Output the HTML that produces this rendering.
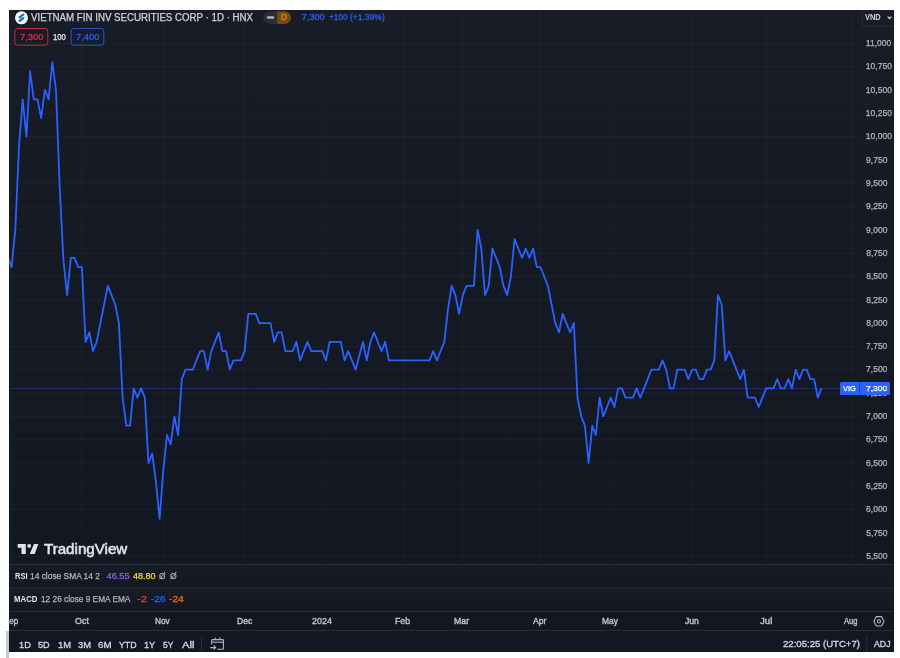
<!DOCTYPE html>
<html><head><meta charset="utf-8"><style>
*{margin:0;padding:0;box-sizing:border-box}
html,body{width:900px;height:658px;background:#fff;overflow:hidden}
body{position:relative;font-family:"Liberation Sans",sans-serif}
#panel{position:absolute;left:9px;top:10px;width:885px;height:641.5px;background:#131722;overflow:hidden}
svg{position:absolute;left:0;top:0}
.t{position:absolute;white-space:nowrap;transform-origin:0 0}
.clip{position:absolute;left:9px;top:10px;width:885px;height:641.5px;overflow:hidden}
.clip>div{margin-left:-9px;margin-top:-10px}
.txt{position:absolute;left:0;top:0;width:900px;height:658px;will-change:transform}
</style></head><body>
<div style="position:absolute;left:6px;top:631px;width:3px;height:27px;background:#c8c8c8"></div>
<div id="panel"></div>
<div style="position:absolute;left:9px;top:10px;width:885px;height:554px;background:linear-gradient(#181c27,#131722)"></div>
<div style="position:absolute;left:9px;top:565px;width:885px;height:23px;background:linear-gradient(#181c27,#131722)"></div>
<div style="position:absolute;left:9px;top:588.5px;width:885px;height:23px;background:linear-gradient(#181c27,#131722)"></div>
<svg width="900" height="658" viewBox="0 0 900 658">
<defs><clipPath id="cp"><rect x="9" y="10" width="851" height="554"/></clipPath></defs>
<g stroke="rgba(205,215,255,0.045)" stroke-width="1"><line x1="9" x2="860" y1="556.19" y2="556.19"/><line x1="9" x2="860" y1="532.88" y2="532.88"/><line x1="9" x2="860" y1="509.58" y2="509.58"/><line x1="9" x2="860" y1="486.27" y2="486.27"/><line x1="9" x2="860" y1="462.96" y2="462.96"/><line x1="9" x2="860" y1="439.65" y2="439.65"/><line x1="9" x2="860" y1="416.35" y2="416.35"/><line x1="9" x2="860" y1="393.04" y2="393.04"/><line x1="9" x2="860" y1="369.73" y2="369.73"/><line x1="9" x2="860" y1="346.42" y2="346.42"/><line x1="9" x2="860" y1="323.12" y2="323.12"/><line x1="9" x2="860" y1="299.81" y2="299.81"/><line x1="9" x2="860" y1="276.50" y2="276.50"/><line x1="9" x2="860" y1="253.20" y2="253.20"/><line x1="9" x2="860" y1="229.89" y2="229.89"/><line x1="9" x2="860" y1="206.58" y2="206.58"/><line x1="9" x2="860" y1="183.27" y2="183.27"/><line x1="9" x2="860" y1="159.97" y2="159.97"/><line x1="9" x2="860" y1="136.66" y2="136.66"/><line x1="9" x2="860" y1="113.35" y2="113.35"/><line x1="9" x2="860" y1="90.04" y2="90.04"/><line x1="9" x2="860" y1="66.74" y2="66.74"/><line x1="9" x2="860" y1="43.43" y2="43.43"/><line x1="11.63" x2="11.63" y1="10" y2="564"/><line x1="81.90" x2="81.90" y1="10" y2="564"/><line x1="163.26" x2="163.26" y1="10" y2="564"/><line x1="244.62" x2="244.62" y1="10" y2="564"/><line x1="322.28" x2="322.28" y1="10" y2="564"/><line x1="403.64" x2="403.64" y1="10" y2="564"/><line x1="462.81" x2="462.81" y1="10" y2="564"/><line x1="540.48" x2="540.48" y1="10" y2="564"/><line x1="610.74" x2="610.74" y1="10" y2="564"/><line x1="692.10" x2="692.10" y1="10" y2="564"/><line x1="766.07" x2="766.07" y1="10" y2="564"/><line x1="851.13" x2="851.13" y1="10" y2="564"/></g>
<g stroke="#2a2e39" stroke-width="1">
<line x1="9" x2="894" y1="564.5" y2="564.5"/><line x1="9" x2="894" y1="588" y2="588"/>
<line x1="9" x2="894" y1="611.5" y2="611.5"/><line x1="9" x2="894" y1="630.5" y2="630.5"/>
<line x1="201.5" x2="201.5" y1="636.5" y2="651.5"/><line x1="866.8" x2="866.8" y1="636.5" y2="651.5"/>
</g>
<line x1="9" x2="840" y1="388.38" y2="388.38" stroke="#2962ff" stroke-opacity="0.3"/>
<polyline clip-path="url(#cp)" points="7.9,257.9 11.6,267.2 15.3,229.9 19.0,146.0 22.7,99.4 26.4,136.7 30.1,71.4 33.8,99.4 37.5,99.4 41.2,118.0 44.9,90.0 48.6,99.4 52.3,62.1 56.0,90.0 59.7,187.0 63.4,259.7 67.1,295.1 70.8,257.9 74.5,257.9 78.2,267.2 81.9,267.2 85.6,341.8 89.3,332.4 93.0,351.1 96.7,341.8 100.4,323.1 104.1,304.5 107.8,285.8 111.5,295.1 115.2,304.5 118.9,323.1 122.6,397.7 126.3,425.7 130.0,425.7 133.7,388.4 137.4,397.7 141.1,388.4 144.8,397.7 148.5,463.0 152.2,453.6 155.9,481.6 159.6,518.9 163.3,470.4 167.0,435.0 170.7,444.3 174.4,416.3 178.1,435.0 181.8,379.1 185.4,369.7 189.1,369.7 192.8,369.7 196.5,360.4 200.2,351.1 203.9,351.1 207.6,369.7 211.3,351.1 215.0,341.8 218.7,332.4 222.4,351.1 226.1,351.1 229.8,369.7 233.5,360.4 237.2,360.4 240.9,360.4 244.6,351.1 248.3,313.8 252.0,313.8 255.7,313.8 259.4,323.1 263.1,323.1 266.8,323.1 270.5,323.1 274.2,341.8 277.9,332.4 281.6,332.4 285.3,351.1 289.0,351.1 292.7,351.1 296.4,341.8 300.1,360.4 303.8,351.1 307.5,341.8 311.2,351.1 314.9,351.1 318.6,351.1 322.3,351.1 326.0,360.4 329.7,341.8 333.4,341.8 337.1,341.8 340.8,341.8 344.5,360.4 348.2,351.1 351.9,360.4 355.6,369.7 359.3,355.7 363.0,341.8 366.7,360.4 370.4,341.8 374.1,332.4 377.8,341.8 381.5,351.1 385.2,341.8 388.9,360.4 392.5,360.4 396.2,360.4 399.9,360.4 403.6,360.4 407.3,360.4 411.0,360.4 414.7,360.4 418.4,360.4 422.1,360.4 425.8,360.4 429.5,360.4 433.2,351.1 436.9,360.4 440.6,351.1 444.3,341.8 448.0,309.1 451.7,285.8 455.4,295.1 459.1,313.8 462.8,295.1 466.5,285.8 470.2,285.8 473.9,285.8 477.6,229.9 481.3,248.5 485.0,295.1 488.7,285.8 492.4,248.5 496.1,257.9 499.8,267.2 503.5,285.8 507.2,295.1 510.9,276.5 514.6,239.2 518.3,248.5 522.0,257.9 525.7,248.5 529.4,257.9 533.1,248.5 536.8,267.2 540.5,267.2 544.2,276.5 547.9,285.8 551.6,304.5 555.3,323.1 559.0,332.4 562.7,313.8 566.4,323.1 570.1,332.4 573.8,323.1 577.5,397.7 581.2,416.3 584.9,425.7 588.6,463.0 592.3,425.7 595.9,435.0 599.6,397.7 603.3,416.3 607.0,407.0 610.7,397.7 614.4,407.0 618.1,388.4 621.8,388.4 625.5,397.7 629.2,397.7 632.9,397.7 636.6,388.4 640.3,397.7 644.0,388.4 647.7,379.1 651.4,369.7 655.1,369.7 658.8,369.7 662.5,360.4 666.2,369.7 669.9,388.4 673.6,388.4 677.3,369.7 681.0,369.7 684.7,369.7 688.4,379.1 692.1,369.7 695.8,369.7 699.5,379.1 703.2,379.1 706.9,369.7 710.6,369.7 714.3,360.4 718.0,295.1 721.7,304.5 725.4,360.4 729.1,351.1 732.8,360.4 736.5,369.7 740.2,379.1 743.9,369.7 747.6,397.7 751.3,397.7 755.0,397.7 758.7,407.0 762.4,397.7 766.1,388.4 769.8,388.4 773.5,388.4 777.2,379.1 780.9,388.4 784.6,388.4 788.3,379.1 792.0,388.4 795.7,369.7 799.4,379.1 803.0,369.7 806.7,369.7 810.4,379.1 814.1,379.1 817.8,397.7 821.5,388.4" fill="none" stroke="#2962ff" stroke-width="1.8" stroke-linejoin="round"/>
<circle cx="21.5" cy="17.8" r="6.5" fill="#f4f6fb"/>
<path d="M19.6 17.3 L23.3 14.5 M19.6 20.9 L23.3 18.1" stroke="#1565c0" stroke-width="2.1" stroke-linecap="round"/>
<path d="M269.5 11.3 H277.2 V23.9 H269.5 A6.3 6.3 0 0 1 269.5 11.3 Z" fill="#2a2e39"/>
<path d="M277.2 11.3 H284.8 A6.3 6.3 0 0 1 284.8 23.9 H277.2 Z" fill="#6a4a1e"/>
<line x1="268" x2="273.2" y1="17.5" y2="17.5" stroke="#b2b5be" stroke-width="2.3" stroke-linecap="round"/>
<rect x="14.8" y="28.5" width="33" height="16.7" rx="2.5" fill="none" stroke="#c4303d" stroke-width="1"/>
<rect x="71.2" y="28.5" width="32.6" height="16.7" rx="2.5" fill="none" stroke="#2453c9" stroke-width="1"/>
<path d="M894 26.3 H864.8 Q862.3 26.3 862.3 23.8 V10" fill="none" stroke="#2a2e39" stroke-width="1"/>
<path d="M887.6 16.6 L889.5 18.5 L891.4 16.6" fill="none" stroke="#d1d4dc" stroke-width="1.25"/>
<g fill="#e0e3eb">
<path d="M17.7 544 H25.8 V554 H21.5 V547.8 H17.7 Z"/>
<circle cx="29.2" cy="545.9" r="1.95"/>
<path d="M34 544 H38.3 L34.7 554 H29.7 Z"/>
</g>
<g fill="none" stroke="#b2b5be" stroke-width="1.1">
<path d="M876.3 616.6 H881.5 L884 621.5 L881.5 626 H876.3 L873.8 621.5 Z"/>
<circle cx="878.9" cy="621.4" r="1.6"/>
</g>
<g fill="none" stroke="#b2b5be" stroke-width="1.1">
<path d="M211.7 644.5 V640.5 Q211.7 639.6 212.6 639.6 H222.6 Q223.4 639.6 223.4 640.5 V648.4 Q223.4 649.3 222.6 649.3 H217.4"/>
<line x1="211.7" x2="223.4" y1="642.2" y2="642.2"/>
<line x1="215.2" x2="215.2" y1="637.6" y2="640"/>
<line x1="219.8" x2="219.8" y1="637.6" y2="640"/>
<path d="M210.2 647.6 H215.6 M213.7 645.7 L215.6 647.6 L213.7 649.5"/>
</g>
</svg>
<div class="txt">
<div class="clip"><div style="position:relative;width:900px;height:658px"><div class="t" style="left:74.60px;top:616.97px;font-size:8.9px;line-height:8.9px;color:#c3c6ce;font-weight:400;transform:scaleX(1.006);-webkit-text-stroke:0.35px currentColor;">Oct</div><div class="t" style="left:155.34px;top:616.97px;font-size:8.9px;line-height:8.9px;color:#c3c6ce;font-weight:400;transform:scaleX(0.926);-webkit-text-stroke:0.35px currentColor;">Nov</div><div class="t" style="left:236.61px;top:616.97px;font-size:8.9px;line-height:8.9px;color:#c3c6ce;font-weight:400;transform:scaleX(0.967);-webkit-text-stroke:0.35px currentColor;">Dec</div><div class="t" style="left:311.85px;top:616.97px;font-size:8.9px;line-height:8.9px;color:#c3c6ce;font-weight:400;transform:scaleX(1.015);-webkit-text-stroke:0.35px currentColor;">2024</div><div class="t" style="left:395.30px;top:616.97px;font-size:8.9px;line-height:8.9px;color:#c3c6ce;font-weight:400;transform:scaleX(0.982);-webkit-text-stroke:0.35px currentColor;">Feb</div><div class="t" style="left:454.30px;top:616.97px;font-size:8.9px;line-height:8.9px;color:#c3c6ce;font-weight:400;transform:scaleX(0.986);-webkit-text-stroke:0.35px currentColor;">Mar</div><div class="t" style="left:533.30px;top:616.97px;font-size:8.9px;line-height:8.9px;color:#c3c6ce;font-weight:400;transform:scaleX(0.976);-webkit-text-stroke:0.35px currentColor;">Apr</div><div class="t" style="left:601.62px;top:616.97px;font-size:8.9px;line-height:8.9px;color:#c3c6ce;font-weight:400;transform:scaleX(0.956);-webkit-text-stroke:0.35px currentColor;">May</div><div class="t" style="left:684.87px;top:616.97px;font-size:8.9px;line-height:8.9px;color:#c3c6ce;font-weight:400;transform:scaleX(0.973);-webkit-text-stroke:0.35px currentColor;">Jun</div><div class="t" style="left:759.85px;top:616.97px;font-size:8.9px;line-height:8.9px;color:#c3c6ce;font-weight:400;transform:scaleX(1.094);-webkit-text-stroke:0.35px currentColor;">Jul</div><div class="t" style="left:844.00px;top:616.97px;font-size:8.9px;line-height:8.9px;color:#c3c6ce;font-weight:400;transform:scaleX(0.850);-webkit-text-stroke:0.35px currentColor;">Aug</div><div class="t" style="left:4.14px;top:616.97px;font-size:8.9px;line-height:8.9px;color:#c3c6ce;font-weight:400;transform:scaleX(0.896);-webkit-text-stroke:0.35px currentColor;">Sep</div></div></div>
<div class="t" style="left:866.16px;top:551.89px;font-size:8.5px;line-height:8.5px;color:#b2b5be;font-weight:400;-webkit-text-stroke:0.25px currentColor;">5,500</div><div class="t" style="left:866.16px;top:528.59px;font-size:8.5px;line-height:8.5px;color:#b2b5be;font-weight:400;-webkit-text-stroke:0.25px currentColor;">5,750</div><div class="t" style="left:866.08px;top:505.28px;font-size:8.5px;line-height:8.5px;color:#b2b5be;font-weight:400;-webkit-text-stroke:0.25px currentColor;">6,000</div><div class="t" style="left:866.08px;top:481.97px;font-size:8.5px;line-height:8.5px;color:#b2b5be;font-weight:400;-webkit-text-stroke:0.25px currentColor;">6,250</div><div class="t" style="left:866.08px;top:458.67px;font-size:8.5px;line-height:8.5px;color:#b2b5be;font-weight:400;-webkit-text-stroke:0.25px currentColor;">6,500</div><div class="t" style="left:866.08px;top:435.36px;font-size:8.5px;line-height:8.5px;color:#b2b5be;font-weight:400;-webkit-text-stroke:0.25px currentColor;">6,750</div><div class="t" style="left:866.08px;top:412.05px;font-size:8.5px;line-height:8.5px;color:#b2b5be;font-weight:400;-webkit-text-stroke:0.25px currentColor;">7,000</div><div class="t" style="left:866.08px;top:388.74px;font-size:8.5px;line-height:8.5px;color:#b2b5be;font-weight:400;-webkit-text-stroke:0.25px currentColor;">7,250</div><div class="t" style="left:866.08px;top:365.44px;font-size:8.5px;line-height:8.5px;color:#b2b5be;font-weight:400;-webkit-text-stroke:0.25px currentColor;">7,500</div><div class="t" style="left:866.08px;top:342.13px;font-size:8.5px;line-height:8.5px;color:#b2b5be;font-weight:400;-webkit-text-stroke:0.25px currentColor;">7,750</div><div class="t" style="left:866.16px;top:318.82px;font-size:8.5px;line-height:8.5px;color:#b2b5be;font-weight:400;-webkit-text-stroke:0.25px currentColor;">8,000</div><div class="t" style="left:866.16px;top:295.51px;font-size:8.5px;line-height:8.5px;color:#b2b5be;font-weight:400;-webkit-text-stroke:0.25px currentColor;">8,250</div><div class="t" style="left:866.16px;top:272.21px;font-size:8.5px;line-height:8.5px;color:#b2b5be;font-weight:400;-webkit-text-stroke:0.25px currentColor;">8,500</div><div class="t" style="left:866.16px;top:248.90px;font-size:8.5px;line-height:8.5px;color:#b2b5be;font-weight:400;-webkit-text-stroke:0.25px currentColor;">8,750</div><div class="t" style="left:866.12px;top:225.59px;font-size:8.5px;line-height:8.5px;color:#b2b5be;font-weight:400;-webkit-text-stroke:0.25px currentColor;">9,000</div><div class="t" style="left:866.12px;top:202.29px;font-size:8.5px;line-height:8.5px;color:#b2b5be;font-weight:400;-webkit-text-stroke:0.25px currentColor;">9,250</div><div class="t" style="left:866.12px;top:178.98px;font-size:8.5px;line-height:8.5px;color:#b2b5be;font-weight:400;-webkit-text-stroke:0.25px currentColor;">9,500</div><div class="t" style="left:866.12px;top:155.67px;font-size:8.5px;line-height:8.5px;color:#b2b5be;font-weight:400;-webkit-text-stroke:0.25px currentColor;">9,750</div><div class="t" style="left:865.86px;top:132.36px;font-size:8.5px;line-height:8.5px;color:#b2b5be;font-weight:400;-webkit-text-stroke:0.25px currentColor;">10,000</div><div class="t" style="left:865.86px;top:109.06px;font-size:8.5px;line-height:8.5px;color:#b2b5be;font-weight:400;-webkit-text-stroke:0.25px currentColor;">10,250</div><div class="t" style="left:865.86px;top:85.75px;font-size:8.5px;line-height:8.5px;color:#b2b5be;font-weight:400;-webkit-text-stroke:0.25px currentColor;">10,500</div><div class="t" style="left:865.86px;top:62.44px;font-size:8.5px;line-height:8.5px;color:#b2b5be;font-weight:400;-webkit-text-stroke:0.25px currentColor;">10,750</div><div class="t" style="left:865.86px;top:39.13px;font-size:8.5px;line-height:8.5px;color:#b2b5be;font-weight:400;-webkit-text-stroke:0.25px currentColor;">11,000</div>
<div style="position:absolute;left:840px;top:382px;width:50.3px;height:12.6px;background:#2962ff;border-radius:1.5px"></div>
<div style="position:absolute;left:859.2px;top:382px;width:0.8px;height:12.6px;background:#1d47c4"></div>
<div class="t" style="left:842.70px;top:384.63px;font-size:8.0px;line-height:8.0px;color:#ffffff;font-weight:400;transform:scaleX(0.932);-webkit-text-stroke:0.25px currentColor;">VIG</div><div class="t" style="left:865.87px;top:384.63px;font-size:8.0px;line-height:8.0px;color:#ffffff;font-weight:400;transform:scaleX(1.066);-webkit-text-stroke:0.25px currentColor;">7,300</div>
<div class="t" style="left:30.70px;top:13.14px;font-size:10.0px;line-height:10.0px;color:#d1d4dc;font-weight:400;transform:scaleX(0.971);-webkit-text-stroke:0.25px currentColor;">VIETNAM FIN INV SECURITIES CORP · 1D · HNX</div><div class="t" style="left:301.74px;top:13.31px;font-size:9.2px;line-height:9.2px;color:#2962ff;font-weight:400;-webkit-text-stroke:0.25px currentColor;">7,300</div><div class="t" style="left:329.03px;top:13.31px;font-size:9.2px;line-height:9.2px;color:#2962ff;font-weight:400;transform:scaleX(0.891);-webkit-text-stroke:0.25px currentColor;">+100</div><div class="t" style="left:350.09px;top:13.31px;font-size:9.2px;line-height:9.2px;color:#2962ff;font-weight:400;transform:scaleX(0.926);-webkit-text-stroke:0.25px currentColor;">(+1.39%)</div><div class="t" style="left:280.53px;top:13.01px;font-size:9.2px;line-height:9.2px;color:#f57c00;font-weight:400;transform:scaleX(0.913);-webkit-text-stroke:0.45px currentColor;">D</div><div class="t" style="left:19.83px;top:32.17px;font-size:9.6px;line-height:9.6px;color:#e0323f;font-weight:400;transform:scaleX(0.979);-webkit-text-stroke:0.25px currentColor;">7,300</div><div class="t" style="left:53.12px;top:32.68px;font-size:9.0px;line-height:9.0px;color:#eceef2;font-weight:400;transform:scaleX(0.856);-webkit-text-stroke:0.25px currentColor;">100</div><div class="t" style="left:75.73px;top:32.17px;font-size:9.6px;line-height:9.6px;color:#2962ff;font-weight:400;transform:scaleX(0.974);-webkit-text-stroke:0.25px currentColor;">7,400</div><div class="t" style="left:864.76px;top:13.35px;font-size:8.8px;line-height:8.8px;color:#d1d4dc;font-weight:700;transform:scaleX(0.846);">VND</div><div class="t" style="left:43.70px;top:542.36px;font-size:14.1px;line-height:14.1px;color:#e0e3eb;font-weight:400;transform:scaleX(1.073);-webkit-text-stroke:0.55px currentColor;">TradingView</div><div class="t" style="left:15.11px;top:571.44px;font-size:9.4px;line-height:9.4px;color:#e3e5ea;font-weight:700;transform:scaleX(0.802);">RSI</div><div class="t" style="left:30.47px;top:571.61px;font-size:9.2px;line-height:9.2px;color:#b2b5be;font-weight:400;transform:scaleX(0.913);-webkit-text-stroke:0.25px currentColor;">14 close SMA 14 2</div><div class="t" style="left:106.52px;top:571.61px;font-size:9.2px;line-height:9.2px;color:#8e63d6;font-weight:400;-webkit-text-stroke:0.25px currentColor;">46.55</div><div class="t" style="left:132.92px;top:571.61px;font-size:9.2px;line-height:9.2px;color:#fadb3c;font-weight:400;transform:scaleX(0.982);-webkit-text-stroke:0.25px currentColor;">48.80</div><div class="t" style="left:159.45px;top:571.61px;font-size:9.2px;line-height:9.2px;color:#b2b5be;font-weight:400;transform:scaleX(0.897);-webkit-text-stroke:0.25px currentColor;">Ø</div><div class="t" style="left:169.54px;top:571.61px;font-size:9.2px;line-height:9.2px;color:#b2b5be;font-weight:400;transform:scaleX(0.927);-webkit-text-stroke:0.25px currentColor;">Ø</div><div class="t" style="left:14.49px;top:595.28px;font-size:9.0px;line-height:9.0px;color:#e3e5ea;font-weight:700;transform:scaleX(0.867);">MACD</div><div class="t" style="left:41.08px;top:595.28px;font-size:9.0px;line-height:9.0px;color:#b2b5be;font-weight:400;transform:scaleX(0.921);-webkit-text-stroke:0.25px currentColor;">12 26 close 9 EMA EMA</div><div class="t" style="left:136.55px;top:595.28px;font-size:9.0px;line-height:9.0px;color:#f23645;font-weight:400;transform:scaleX(1.259);-webkit-text-stroke:0.25px currentColor;">-2</div><div class="t" style="left:150.70px;top:595.28px;font-size:9.0px;line-height:9.0px;color:#2962ff;font-weight:400;transform:scaleX(1.116);-webkit-text-stroke:0.25px currentColor;">-26</div><div class="t" style="left:168.69px;top:595.28px;font-size:9.0px;line-height:9.0px;color:#ff6d00;font-weight:400;transform:scaleX(1.128);-webkit-text-stroke:0.25px currentColor;">-24</div><div class="t" style="left:18.61px;top:640.04px;font-size:9.4px;line-height:9.4px;color:#d1d4dc;font-weight:400;transform:scaleX(0.985);-webkit-text-stroke:0.35px currentColor;">1D</div><div class="t" style="left:38.33px;top:640.04px;font-size:9.4px;line-height:9.4px;color:#d1d4dc;font-weight:400;transform:scaleX(0.973);-webkit-text-stroke:0.35px currentColor;">5D</div><div class="t" style="left:57.59px;top:640.04px;font-size:9.4px;line-height:9.4px;color:#d1d4dc;font-weight:400;transform:scaleX(1.007);-webkit-text-stroke:0.35px currentColor;">1M</div><div class="t" style="left:78.07px;top:640.04px;font-size:9.4px;line-height:9.4px;color:#d1d4dc;font-weight:400;-webkit-text-stroke:0.35px currentColor;">3M</div><div class="t" style="left:98.21px;top:640.04px;font-size:9.4px;line-height:9.4px;color:#d1d4dc;font-weight:400;transform:scaleX(1.038);-webkit-text-stroke:0.35px currentColor;">6M</div><div class="t" style="left:118.82px;top:640.04px;font-size:9.4px;line-height:9.4px;color:#d1d4dc;font-weight:400;transform:scaleX(0.936);-webkit-text-stroke:0.35px currentColor;">YTD</div><div class="t" style="left:144.11px;top:640.04px;font-size:9.4px;line-height:9.4px;color:#d1d4dc;font-weight:400;transform:scaleX(0.982);-webkit-text-stroke:0.35px currentColor;">1Y</div><div class="t" style="left:163.16px;top:640.04px;font-size:9.4px;line-height:9.4px;color:#d1d4dc;font-weight:400;transform:scaleX(0.907);-webkit-text-stroke:0.35px currentColor;">5Y</div><div class="t" style="left:182.10px;top:640.04px;font-size:9.4px;line-height:9.4px;color:#d1d4dc;font-weight:400;transform:scaleX(1.207);-webkit-text-stroke:0.35px currentColor;">All</div><div class="t" style="left:782.72px;top:640.13px;font-size:9.3px;line-height:9.3px;color:#d1d4dc;font-weight:400;transform:scaleX(1.031);-webkit-text-stroke:0.35px currentColor;">22:05:25 (UTC+7)</div><div class="t" style="left:873.90px;top:640.13px;font-size:9.3px;line-height:9.3px;color:#d1d4dc;font-weight:400;transform:scaleX(0.940);-webkit-text-stroke:0.35px currentColor;">ADJ</div>
</div>
</body></html>
